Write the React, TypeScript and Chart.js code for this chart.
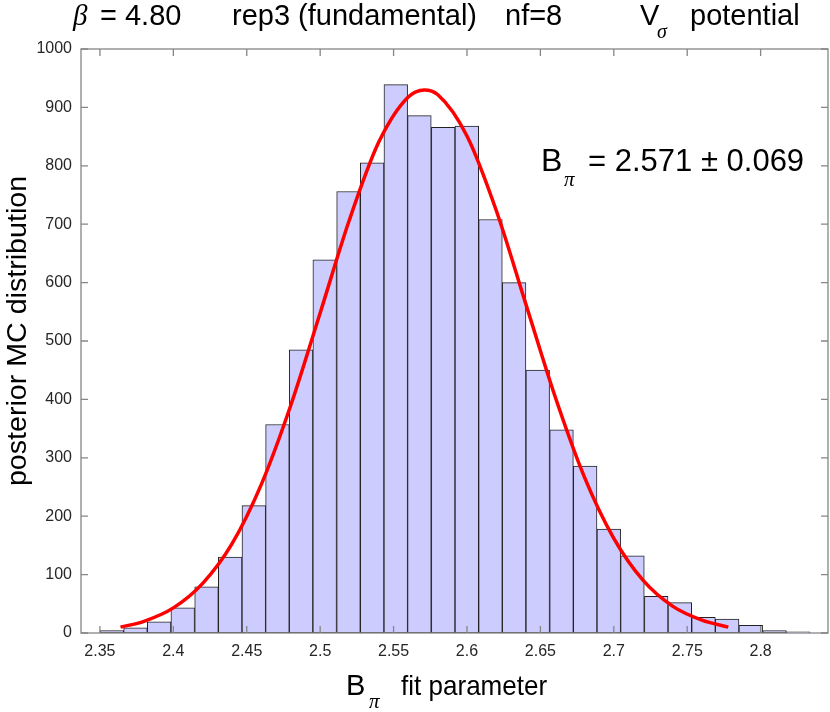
import { useEffect, useRef } from "react";
import { Chart, registerables } from "chart.js";

Chart.register(...registerables);

// histogram bins (centres) and counts
const binCenters = [
  2.3581, 2.3742, 2.3903, 2.4064, 2.4226, 2.4387, 2.4548, 2.4709, 2.487, 2.5031,
  2.5193, 2.5354, 2.5515, 2.5676, 2.5838, 2.5999, 2.616, 2.6321, 2.6482, 2.6644,
  2.6805, 2.6966, 2.7127, 2.7289, 2.745, 2.7611, 2.7772, 2.7933, 2.8095, 2.8256,
];
const binCounts = [
  4, 9, 19, 43, 79, 130, 218, 357, 485, 639,
  756, 805, 939, 886, 866, 868, 708, 600, 450, 348,
  286, 178, 132, 63, 52, 27, 24, 13, 4, 2,
];

// red fitted curve
const curveX = [
  2.364, 2.38, 2.4, 2.42, 2.44, 2.46, 2.48, 2.5, 2.52, 2.54, 2.56, 2.571,
  2.58, 2.6, 2.62, 2.64, 2.66, 2.68, 2.7, 2.72, 2.74, 2.76, 2.778,
];
const curveY = [
  10, 20, 43, 85, 153, 255, 390, 548, 708, 841, 918, 930,
  922, 851, 723, 564, 405, 267, 162, 90, 46, 22, 10,
];

const xTicks = [2.35, 2.4, 2.45, 2.5, 2.55, 2.6, 2.65, 2.7, 2.75, 2.8];

const SANS = "'Liberation Sans', Arial, Helvetica, sans-serif";
const SERIF = "'Liberation Serif', 'Times New Roman', serif";

function txt(ctx: CanvasRenderingContext2D, s: string, x: number, y: number, font: string, sx = 1) {
  ctx.save();
  ctx.translate(x, y);
  ctx.scale(sx, 1);
  ctx.font = font;
  ctx.textAlign = "left";
  ctx.textBaseline = "alphabetic";
  ctx.fillStyle = "#000";
  ctx.fillText(s, 0, 0);
  ctx.restore();
}

const framePlugin = {
  id: "frame",
  afterDraw(chart: any) {
    const ctx: CanvasRenderingContext2D = chart.ctx;
    const { left, right, top, bottom } = chart.chartArea;
    const xs = chart.scales.x;
    const ys = chart.scales.y;
    const tl = 7;

    ctx.save();
    ctx.strokeStyle = "#868686";
    ctx.lineWidth = 1.3;
    ctx.strokeRect(left, top, right - left, bottom - top);
    ctx.beginPath();
    xs.ticks.forEach((t: any) => {
      const px = xs.getPixelForValue(t.value);
      ctx.moveTo(px, bottom);
      ctx.lineTo(px, bottom - tl);
      ctx.moveTo(px, top);
      ctx.lineTo(px, top + tl);
    });
    ys.ticks.forEach((t: any) => {
      const py = ys.getPixelForValue(t.value);
      ctx.moveTo(left, py);
      ctx.lineTo(left + tl, py);
      ctx.moveTo(right, py);
      ctx.lineTo(right - tl, py);
    });
    ctx.stroke();
    ctx.restore();

    // title
    txt(ctx, "\u03b2", 73, 25, `italic 29px ${SERIF}`);
    txt(ctx, "= 4.80", 100, 25, `29px ${SANS}`);
    txt(ctx, "rep3 (fundamental)", 232, 25, `29px ${SANS}`);
    txt(ctx, "nf=8", 505, 25, `29px ${SANS}`);
    txt(ctx, "V", 640, 25, `29px ${SANS}`);
    txt(ctx, "\u03c3", 657, 38, `italic 20px ${SERIF}`);
    txt(ctx, "potential", 690, 25, `29px ${SANS}`);

    // fit result
    txt(ctx, "B", 541, 171, `32px ${SANS}`);
    txt(ctx, "\u03c0", 564, 186, `italic 21px ${SERIF}`);
    txt(ctx, "= 2.571 \u00b1 0.069", 588, 171, `31px ${SANS}`);

    // x label
    txt(ctx, "B", 346, 695, `29px ${SANS}`);
    txt(ctx, "\u03c0", 369, 708, `italic 21px ${SERIF}`);
    txt(ctx, "fit parameter", 401, 695, `28px ${SANS}`, 0.93);

    // y label
    ctx.save();
    ctx.translate(26, 331);
    ctx.rotate(-Math.PI / 2);
    ctx.scale(1.06, 1);
    ctx.font = `27px ${SANS}`;
    ctx.textAlign = "center";
    ctx.textBaseline = "alphabetic";
    ctx.fillStyle = "#000";
    ctx.fillText("posterior MC distribution", 0, 0);
    ctx.restore();
  },
};

const App = () => {
  const canvasRef = useRef<HTMLCanvasElement | null>(null);

  useEffect(() => {
    document.body.style.margin = "0";
    const ctx = canvasRef.current?.getContext("2d");
    if (!ctx) return;

    const bars = binCenters.map((x, i) => ({ x, y: binCounts[i] }));
    const curve = curveX.map((x, i) => ({ x, y: curveY[i] }));

    const chart = new Chart(ctx, {
      type: "bar",
      data: {
        datasets: [
          {
            type: "line",
            data: curve,
            borderColor: "#ff0000",
            borderWidth: 3.5,
            pointRadius: 0,
            cubicInterpolationMode: "monotone",
            fill: false,
            order: 1,
          } as any,
          {
            type: "bar",
            data: bars,
            backgroundColor: "#ccccff",
            borderColor: "#222222",
            borderWidth: 1,
            borderSkipped: false,
            barPercentage: 1,
            categoryPercentage: 1,
            order: 2,
          } as any,
        ],
      },
      options: {
        animation: false,
        responsive: true,
        maintainAspectRatio: false,
        layout: { padding: { top: 49, right: 2, left: 0, bottom: 0 } },
        plugins: {
          legend: { display: false },
          title: { display: false },
          tooltip: { enabled: false },
        },
        scales: {
          x: {
            type: "linear",
            min: 2.3371,
            max: 2.8459,
            offset: false,
            grid: { display: false, drawTicks: false },
            border: { display: false },
            afterBuildTicks: (scale: any) => {
              scale.ticks = xTicks.map((value) => ({ value }));
            },
            afterFit: (scale: any) => {
              scale.height = 79;
            },
            ticks: {
              padding: 9,
              color: "#262626",
              font: { family: SANS, size: 16 },
              maxRotation: 0,
              autoSkip: false,
              callback: (v: any) => String(v),
            },
          },
          y: {
            min: 0,
            max: 1000,
            grid: { display: false, drawTicks: false },
            border: { display: false },
            afterFit: (scale: any) => {
              scale.width = 81;
            },
            ticks: {
              stepSize: 100,
              padding: 9,
              color: "#262626",
              font: { family: SANS, size: 16 },
              callback: (v: any) => String(v),
            },
          },
        },
      },
      plugins: [framePlugin],
    });

    return () => {
      chart.destroy();
    };
  }, []);

  return (
    <div style={{ position: "relative", width: 830, height: 712, background: "#fff" }}>
      <canvas ref={canvasRef}></canvas>
    </div>
  );
};

export default App;
